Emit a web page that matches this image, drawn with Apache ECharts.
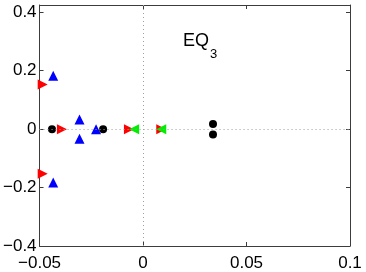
<!DOCTYPE html>
<html><head><meta charset="utf-8">
<script src="https://cdn.jsdelivr.net/npm/echarts@6/dist/echarts.min.js"></script>
<style>html,body{margin:0;padding:0;background:#fff}#c{width:366px;height:272px}</style>
</head><body><div id="c"></div>
<script>
// data
const blackX = [-0.044, -0.0193, 0.0338, 0.0338];
const blackY = [0, 0, 0.018, -0.018];
const redX = [-0.0485, -0.0485, -0.0392, -0.0068, 0.0088];
const redY = [0.153, -0.153, 0, 0, 0];
const blueX = [-0.0434, -0.0434, -0.0307, -0.0307, -0.0227];
const blueY = [0.183, -0.183, 0.033, -0.033, 0];
const greenX = [-0.0043, 0.0088];
const greenY = [0, 0];
const xTicks = [-0.05, 0, 0.05, 0.1];
const yTicks = [-0.4, -0.2, 0, 0.2, 0.4];

const pts = (xs, ys) => xs.map((x, i) => [x, ys[i]]);
const fmt = v => (Math.abs(v) < 1e-9 ? '0' : String(+v.toFixed(3)).replace('-', '\u2212'));
const font = 'Liberation Sans';
const axisCol = '#3c3c3c';

const chart = echarts.init(document.getElementById('c'));
const xBase = {
  type: 'value', min: -0.05, max: 0.1, interval: 0.05,
  axisLine: { onZero: false, lineStyle: { color: axisCol, width: 1 } },
  splitLine: { show: false },
  axisTick: { inside: true, length: 4, lineStyle: { color: axisCol }, customValues: xTicks }
};
const yBase = {
  type: 'value', min: -0.4, max: 0.425, interval: 0.2,
  axisLine: { onZero: false, lineStyle: { color: axisCol, width: 1 } },
  splitLine: { show: false },
  axisTick: { inside: true, length: 4, lineStyle: { color: axisCol }, customValues: yTicks }
};
chart.setOption({
  animation: false,
  grid: { left: 38, right: 16, top: 5, bottom: 25 },
  title: {
    text: '{a|EQ}{b|3}', left: 178, top: 27,
    textStyle: { fontWeight: 'normal', rich: {
      a: { fontFamily: font, fontSize: 18, fontWeight: 'normal', color: '#000', lineHeight: 22, verticalAlign: 'top' },
      b: { fontFamily: font, fontSize: 13, fontWeight: 'normal', color: '#000', padding: [16, 0, 0, 1], lineHeight: 22, verticalAlign: 'top' }
    } }
  },
  xAxis: [
    Object.assign({}, xBase, { position: 'bottom',
      axisLabel: { customValues: xTicks, formatter: fmt, color: '#000', fontFamily: font, fontSize: 17, margin: 9 } }),
    Object.assign({}, xBase, { position: 'top', axisLabel: { show: false } })
  ],
  yAxis: [
    Object.assign({}, yBase, { position: 'left',
      axisLabel: { customValues: yTicks, formatter: fmt, color: '#000', fontFamily: font, fontSize: 17, margin: 3 } }),
    Object.assign({}, yBase, { position: 'right', axisLabel: { show: false } })
  ],
  series: [
    { type: 'scatter', data: [], silent: true,
      markLine: { silent: true, symbol: 'none', label: { show: false },
        lineStyle: { color: '#a0a0a0', type: [1, 3], width: 1 },
        data: [{ xAxis: 0 }, { yAxis: 0 }] } },
    { type: 'scatter', data: pts(blueX, blueY), symbol: 'triangle', symbolSize: 10,
      itemStyle: { color: '#0000ff', opacity: 1 } },
    { type: 'scatter', data: pts(redX, redY), symbol: 'triangle', symbolRotate: -90, symbolSize: 10,
      itemStyle: { color: '#ff0000', opacity: 1 } },
    { type: 'scatter', data: pts(greenX, greenY), symbol: 'triangle', symbolRotate: 90, symbolSize: 10,
      itemStyle: { color: '#00ee00', opacity: 1 } },
    { type: 'scatter', data: pts(blackX, blackY), symbol: 'circle', symbolSize: 8,
      itemStyle: { color: '#000', opacity: 1 } }
  ]
});
</script></body></html>
